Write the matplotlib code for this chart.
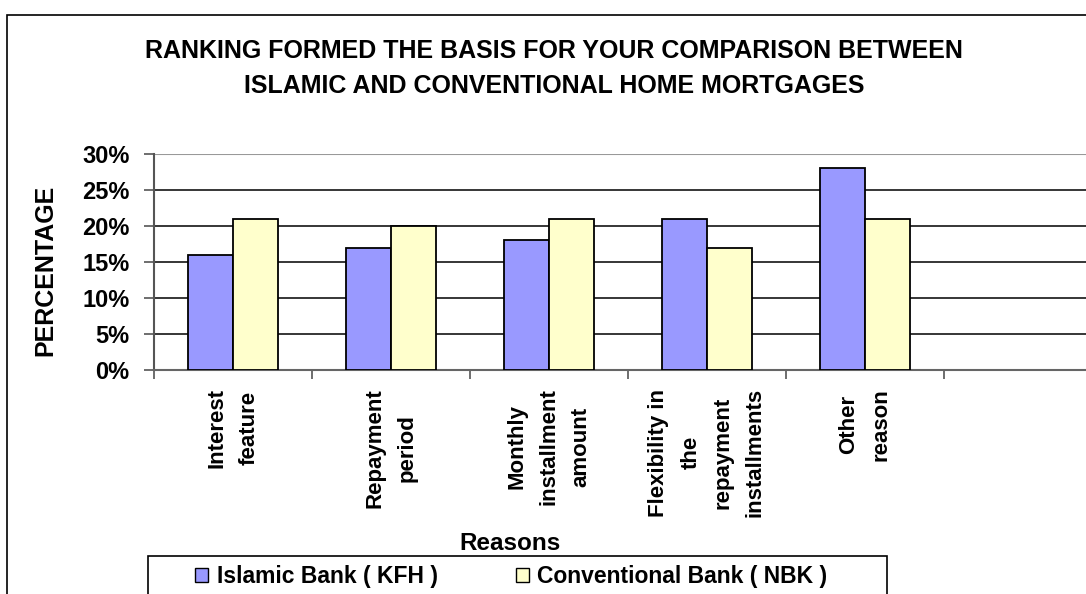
import matplotlib
matplotlib.use('Agg')
import matplotlib.pyplot as plt
import matplotlib.patches as mpatches
import numpy as np

plt.rcParams['font.family'] = ['Liberation Sans', 'DejaVu Sans']
plt.rcParams['font.weight'] = 'bold'

# Datos
categories = ['Interest\nfeature', 'Repayment\nperiod', 'Monthly\ninstallment\namount',
              'Flexibility in\nthe\nrepayment\ninstallments', 'Other\nreason', '']
islamic = [16, 17, 18, 21, 28, np.nan]
conventional = [21, 20, 21, 17, 21, np.nan]
series_names = ['Islamic Bank ( KFH )', 'Conventional Bank ( NBK )']
yticks = [0, 5, 10, 15, 20, 25, 30]

W, H = 1086, 594
fig = plt.figure(figsize=(W / 100, H / 100), dpi=100)

# borde exterior del grafico
fig.patches.append(mpatches.Rectangle((7 / W, -0.1), 1.2, 1 - 15 / H + 0.1,
                                      transform=fig.transFigure, fill=False,
                                      edgecolor='black', lw=1.2))

# area del grafico (la ultima categoria queda cortada a la derecha)
left, right, top, bottom = 154, 1102, 154, 370
ax = fig.add_axes([left / W, 1 - bottom / H, (right - left) / W, (bottom - top) / H])

x = np.arange(len(categories))
bw = 0.285
ax.bar(x - bw / 2, islamic, bw, color='#9999ff', edgecolor='black', lw=1.3, zorder=3)
ax.bar(x + bw / 2, conventional, bw, color='#ffffcc', edgecolor='black', lw=1.3, zorder=3)

ax.set_xlim(-0.5, len(categories) - 0.5)
ax.set_ylim(0, 30)
ax.set_yticks(yticks)
ax.set_yticklabels([f'{v}%' for v in yticks], fontsize=17, fontweight='bold')
for v in yticks[1:-1]:
    ax.axhline(v, color='black', lw=1.1, zorder=1)
ax.axhline(30, color='#999999', lw=1.5, zorder=1)

ax.set_xticks(np.arange(len(categories) + 1) - 0.5, minor=False)
ax.set_xticklabels([])
ax.set_xticks(x, minor=True)
ax.set_xticklabels(categories, minor=True, rotation=90, fontsize=16, fontweight='bold',
                   va='top', ha='center', multialignment='center', linespacing=1.7)
ax.tick_params(axis='x', which='minor', length=0, pad=13)
ax.tick_params(axis='x', which='major', length=6.5, color='#555555', width=1.2)
ax.tick_params(axis='y', length=7.2, color='#555555', width=1.2, pad=10.5)

for s in ['top', 'right']:
    ax.spines[s].set_visible(False)
ax.spines['left'].set_color('#555555')
ax.spines['left'].set_linewidth(1.5)
ax.spines['bottom'].set_color('#666666')
ax.spines['bottom'].set_linewidth(1.5)

fig.text(45 / W, 1 - 270 / H, 'PERCENTAGE', rotation=90, ha='center', va='center',
         fontsize=18, fontweight='bold')
fig.text(510 / W, 1 - 544 / H, 'Reasons', ha='center', va='center',
         fontsize=17.5, fontweight='bold')

fig.text(554 / W, 1 - 51 / H, 'RANKING FORMED THE BASIS FOR YOUR COMPARISON BETWEEN',
         ha='center', va='center', fontsize=18, fontweight='bold')
fig.text(554 / W, 1 - 86 / H, 'ISLAMIC AND CONVENTIONAL HOME MORTGAGES',
         ha='center', va='center', fontsize=18, fontweight='bold')

# leyenda
fig.patches.append(mpatches.Rectangle((148 / W, -0.1), (887 - 148) / W, 0.1 + 1 - 556 / H,
                                      transform=fig.transFigure, fill=False,
                                      edgecolor='black', lw=1.2))
handles = [mpatches.Patch(facecolor='#9999ff', edgecolor='black'),
           mpatches.Patch(facecolor='#ffffcc', edgecolor='black')]
fig.legend(handles, series_names, loc='center left',
           bbox_to_anchor=(195 / W, 1 - 577 / H), frameon=False, ncol=2,
           prop={'size': 16.5, 'weight': 'bold'}, handlelength=0.57, handleheight=0.57,
           handletextpad=0.38, columnspacing=3.4, borderpad=0, borderaxespad=0)

fig.savefig('out.png', dpi=100)
